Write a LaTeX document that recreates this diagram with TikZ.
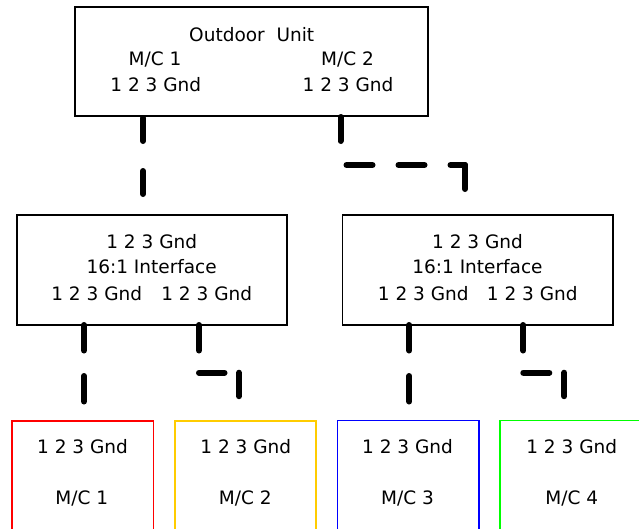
\documentclass[tikz,border=0pt]{standalone}
\usepackage{fontspec}
\setmainfont{DejaVu Sans}
\begin{document}
\begin{tikzpicture}[x=1pt,y=-1pt]
\tikzset{
  unitbox/.style={draw=black, line width=1.6pt, inner sep=0pt, outer sep=0pt},
  mcbox/.style={draw=#1, line width=1.6pt, inner sep=0pt, outer sep=0pt, minimum height=140pt},
  lbl/.style={anchor=base, inner sep=0pt, outer sep=0pt, font=\fontsize{18.5}{22}\selectfont},
  wire/.style={line width=6pt, line cap=round},
}
\definecolor{mcred}{RGB}{255,0,0}
\definecolor{mcyellow}{RGB}{255,204,0}
\definecolor{mcblue}{RGB}{0,0,255}
\definecolor{mcgreen}{RGB}{0,255,0}

\clip (0,0) rectangle (639,528);

% outdoor unit
\node[unitbox, minimum width=353pt, minimum height=109pt] (ou) at (251.5,61.5) {};
\node[lbl] (ouT) at (251.7,41) {Outdoor\ \ Unit};
\node[lbl] (ouA) at (155,65) {M/C 1};
\node[lbl] (ouAp) at (155.8,91.7) {1 2 3 Gnd};
\node[lbl] (ouB) at (347.5,65) {M/C 2};
\node[lbl] (ouBp) at (348,91.7) {1 2 3 Gnd};

% interfaces
\node[unitbox, minimum width=270pt, minimum height=110pt] (ifl) at (152,270) {};
\node[lbl] (iflIn) at (151.7,248.3) {1 2 3 Gnd};
\node[lbl] (iflT) at (151.7,273.3) {16:1 Interface};
\node[lbl] (iflA) at (96.7,300) {1 2 3 Gnd};
\node[lbl] (iflB) at (206.7,300) {1 2 3 Gnd};

\node[unitbox, minimum width=270.4pt, minimum height=110pt] (ifr) at (477.5,270) {};
\node[lbl] (ifrIn) at (477.5,248.3) {1 2 3 Gnd};
\node[lbl] (ifrT) at (477.5,273.3) {16:1 Interface};
\node[lbl] (ifrA) at (423.3,300) {1 2 3 Gnd};
\node[lbl] (ifrB) at (532.3,300) {1 2 3 Gnd};

% machines
\node[mcbox=mcred, minimum width=141.6pt] (m1) at (82.5,490.7) {};
\node[mcbox=mcyellow, minimum width=140.7pt] (m2) at (245.35,490.7) {};
\node[mcbox=mcblue, minimum width=141.7pt] (m3) at (408.2,490.6) {};
\node[mcbox=mcgreen, minimum width=143.4pt] (m4) at (571.7,490.3) {};
\node[lbl] (m1p) at (82.5,453.3) {1 2 3 Gnd};
\node[lbl] (m1t) at (81.7,504) {M/C 1};
\node[lbl] (m2p) at (245.8,453.3) {1 2 3 Gnd};
\node[lbl] (m2t) at (245.3,504) {M/C 2};
\node[lbl] (m3p) at (407.5,453.3) {1 2 3 Gnd};
\node[lbl] (m3t) at (407.5,504) {M/C 3};
\node[lbl] (m4p) at (571.7,453.3) {1 2 3 Gnd};
\node[lbl] (m4t) at (571.7,504) {M/C 4};

% wire bends
\path (143,0 |- ou.south) coordinate (a0)
      (143,0 |- ifl.north) coordinate (a1)
      (340.5,0 |- ou.south) coordinate (b0)
      (340.5,165) coordinate (b1)
      (465,165) coordinate (b2)
      (465,0 |- ifr.north) coordinate (b3)
      (84,0 |- ifl.south) coordinate (c0)
      (84,0 |- m1.north) coordinate (c1)
      (199,0 |- ifl.south) coordinate (d0)
      (199,372.7) coordinate (d1)
      (239,372.7) coordinate (d2)
      (239,0 |- m2.north) coordinate (d3)
      (409.3,0 |- ifr.south) coordinate (e0)
      (409.3,0 |- m3.north) coordinate (e1)
      (523.3,0 |- ifr.south) coordinate (f0)
      (523.3,372.7) coordinate (f1)
      (564.3,372.7) coordinate (f2)
      (564.3,0 |- m4.north) coordinate (f3);

% outdoor unit to interfaces
\draw[wire, dash pattern=on 23pt off 30pt, dash phase=51pt] (a0) -- (a1);
\draw[wire, dash pattern=on 24pt off 30pt, dash phase=53pt] (b0) -- (b1);
\draw[wire, dash pattern=on 26pt off 26pt, dash phase=46pt] (b1) -- (b2);
\draw[wire, dash pattern=on 24pt off 40pt] (b2) -- (b3);

% interfaces to machines
\draw[wire, dash pattern=on 25.5pt off 25.5pt] (c0) -- (c1);
\draw[wire, dash pattern=on 25.5pt off 30pt] (d0) -- (d1);
\draw[wire, dash pattern=on 25.5pt off 30pt] (d1) -- (d2);
\draw[wire, dash pattern=on 23.5pt off 30pt] (d2) -- (d3);
\draw[wire, dash pattern=on 25.5pt off 25.5pt] (e0) -- (e1);
\draw[wire, dash pattern=on 25.5pt off 30pt] (f0) -- (f1);
\draw[wire, dash pattern=on 26pt off 30pt] (f1) -- (f2);
\draw[wire, dash pattern=on 23.5pt off 30pt] (f2) -- (f3);
\end{tikzpicture}
\end{document}
